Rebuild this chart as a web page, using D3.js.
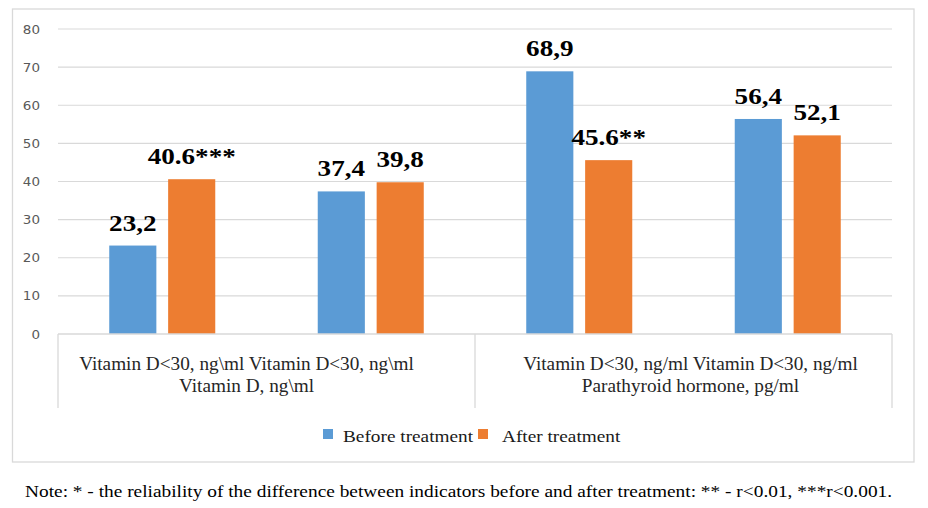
<!DOCTYPE html>
<html>
<head>
<meta charset="utf-8">
<script src="https://cdn.jsdelivr.net/npm/d3@7"></script>
<style>
  body { margin: 0; background: #fff; }
  svg { display: block; }
</style>
</head>
<body>
<div id="main"></div>
<script>
// chart values
var categories = ["vd_a", "vd_b", "pth_a", "pth_b"];
var groups = ["Vitamin D, ng\\ml", "Parathyroid hormone, pg/ml"];
var groupSubLabels = ["Vitamin D<30, ng\\ml Vitamin D<30, ng\\ml", "Vitamin D<30, ng/ml Vitamin D<30, ng/ml"];
var seriesNames = ["Before treatment", "After treatment"];
var beforeValues = [23.2, 37.4, 68.9, 56.4];
var afterValues = [40.6, 39.8, 45.6, 52.1];
var beforeLabels = ["23,2", "37,4", "68,9", "56,4"];
var afterLabels = ["40.6***", "39,8", "45.6**", "52,1"];
var yTicks = [0, 10, 20, 30, 40, 50, 60, 70, 80];
var noteText = "Note: * - the reliability of the difference between indicators before and after treatment: ** - r<0.01, ***r<0.001.";

var width = 928, height = 508;
var colors = ["#5b9bd5", "#ed7d31"];
var plot = {left: 58, right: 892, top: 29, bottom: 334};
var serif = "Liberation Serif, Times New Roman, serif";
var groupLabelShift = [-20, 7];

var svg = d3.select("#main").append("svg")
    .attr("width", width)
    .attr("height", height);

// text that is a little wider than the font draws it
function stretched(sel, sx) {
    return sel.attr("transform", function() {
        var t = d3.select(this);
        return "translate(" + t.attr("data-x") + "," + t.attr("data-y") + ") scale(" + sx + ",1)";
    });
}

// outer frame
svg.append("rect")
    .attr("x", 12.5).attr("y", 9)
    .attr("width", 914 - 12.5).attr("height", 462 - 9)
    .attr("fill", "none")
    .attr("stroke", "#d9d9d9")
    .attr("stroke-width", 1.3);

var y = d3.scaleLinear().domain([0, 80]).range([plot.bottom, plot.top]);
var x = d3.scaleBand().domain(categories).range([plot.left, plot.right]);
var xs = d3.scaleBand().domain(seriesNames).range([0, x.bandwidth()]).paddingInner(0.2).paddingOuter(0.87);
var xg = d3.scaleBand().domain(groups).range([plot.left, plot.right]);

// gridlines
svg.append("g")
    .selectAll("line").data(yTicks.filter(d => d > 0))
    .enter().append("line")
    .attr("x1", plot.left).attr("x2", plot.right)
    .attr("y1", d => y(d)).attr("y2", d => y(d))
    .attr("stroke", "#d9d9d9").attr("stroke-width", 1.2);

// y tick labels
svg.append("g")
    .selectAll("text").data(yTicks)
    .enter().append("text")
    .attr("data-x", 40).attr("data-y", d => y(d))
    .attr("dy", "0.36em")
    .attr("text-anchor", "end")
    .style("font-family", "DejaVu Sans, Verdana, sans-serif")
    .style("font-size", "12.5px")
    .style("fill", "#595959")
    .text(d => d)
    .call(stretched, 1.08);

// bars + value labels
var series = [beforeValues, afterValues];
var labels = [beforeLabels, afterLabels];
series.forEach(function(vals, s) {
    svg.append("g")
        .selectAll("rect").data(vals)
        .enter().append("rect")
        .attr("x", (d, i) => x(categories[i]) + xs(seriesNames[s]))
        .attr("y", d => y(d))
        .attr("width", xs.bandwidth())
        .attr("height", d => y(0) - y(d))
        .attr("fill", colors[s]);

    svg.append("g")
        .selectAll("text").data(vals)
        .enter().append("text")
        .attr("data-x", (d, i) => x(categories[i]) + xs(seriesNames[s]) + xs.bandwidth() / 2)
        .attr("data-y", d => y(d) - 15)
        .attr("text-anchor", "middle")
        .style("font-family", serif)
        .style("font-weight", "bold")
        .style("font-size", "24px")
        .style("fill", "#000")
        .text((d, i) => labels[s][i])
        .call(stretched, 1.13);
});

// category axis box
var axisG = svg.append("g").attr("stroke", "#d9d9d9").attr("stroke-width", 1.3);
axisG.append("line")
    .attr("x1", plot.left).attr("x2", plot.right)
    .attr("y1", y(0)).attr("y2", y(0));
var bounds = groups.map(g => xg(g)).concat([plot.right]);
axisG.selectAll(".sep").data(bounds)
    .enter().append("line")
    .attr("class", "sep")
    .attr("x1", d => d).attr("x2", d => d)
    .attr("y1", y(0)).attr("y2", y(0) + 74);

var catText = svg.append("g")
    .style("font-family", serif)
    .style("font-size", "18.5px")
    .style("fill", "#262626")
    .attr("text-anchor", "middle");
catText.selectAll(".sub").data(groupSubLabels)
    .enter().append("text")
    .attr("class", "sub")
    .attr("data-x", (d, i) => xg(groups[i]) + xg.bandwidth() / 2 + groupLabelShift[i])
    .attr("data-y", y(0) + 36)
    .text(d => d)
    .call(stretched, 1.04);
catText.selectAll(".grp").data(groups)
    .enter().append("text")
    .attr("class", "grp")
    .attr("data-x", (d, i) => xg(d) + xg.bandwidth() / 2 + groupLabelShift[i])
    .attr("data-y", y(0) + 58)
    .text(d => d)
    .call(stretched, 1.04);

// legend
var legendX = [323, 478];
var legend = svg.append("g").selectAll("g").data(seriesNames)
    .enter().append("g")
    .attr("transform", (d, i) => "translate(" + legendX[i] + ",429)");
legend.append("rect")
    .attr("width", 10).attr("height", 10)
    .attr("fill", (d, i) => colors[i]);
legend.append("text")
    .attr("data-x", (d, i) => i == 0 ? 20 : 24)
    .attr("data-y", 12.5)
    .style("font-family", serif)
    .style("font-size", "17.7px")
    .style("fill", "#1a1a1a")
    .text(d => d)
    .call(stretched, 1.09);

// note under the chart
svg.append("text")
    .attr("data-x", 25).attr("data-y", 497)
    .style("font-family", serif)
    .style("font-size", "17.7px")
    .style("fill", "#000")
    .text(noteText)
    .call(stretched, 1.094);
</script>
</body>
</html>
